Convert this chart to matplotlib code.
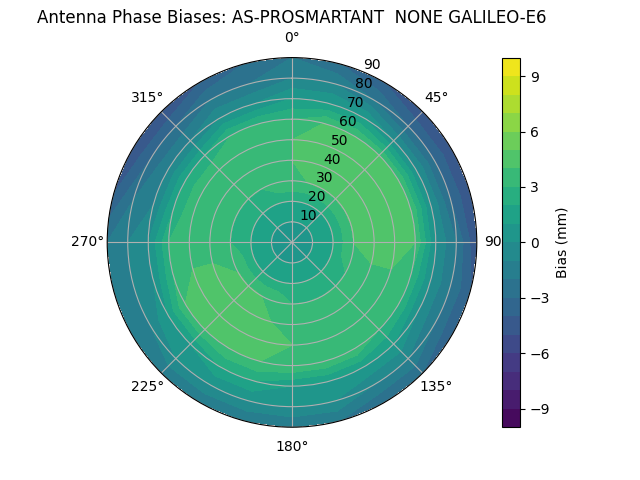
import numpy as np
import matplotlib
matplotlib.use("Agg")
import matplotlib.pyplot as plt

azimuth_deg = list(range(0, 360, 15))
zenith_deg = [0, 10, 20, 30, 40, 50, 60, 70, 80, 90]
bias_mm = [
    [1, 1, 2, 4, 4, 4, 3, 1, -1, -2],   # 0
    [1, 1, 2, 4, 5, 5, 4, 1, -1, -3],   # 15
    [1, 1, 2, 4, 5, 5, 4, 1, -2, -4],   # 30
    [1, 1, 2, 4, 5, 5, 4, 0, -3, -5],   # 45
    [1, 1, 2, 4, 5, 5, 4, 0, -3, -5],   # 60
    [1, 1, 2, 4, 5, 5, 4, 0, -3, -5],   # 75
    [1, 1, 2, 4, 5, 5, 4, 0, -2, -5],   # 90
    [1, 1, 2, 4, 4, 4, 3, 0, -2, -4],   # 105
    [1, 1, 2, 3, 4, 4, 3, 0, -2, -4],   # 120
    [1, 1, 2, 3, 4, 4, 3, 1, -1, -3],   # 135
    [1, 1, 2, 3, 4, 4, 4, 1, -1, -3],   # 150
    [1, 1, 2, 3, 4, 4, 4, 1, 0, -2],    # 165
    [1, 1, 2, 3, 4, 4, 4, 1, 0, -2],    # 180
    [1, 1, 2, 4, 4, 5, 4, 2, 0, -2],    # 195
    [1, 1, 2, 4, 5, 5, 4, 2, 0, -2],    # 210
    [1, 1, 2, 4, 5, 5, 4, 1, 0, -2],    # 225
    [1, 1, 2, 4, 5, 5, 4, 1, -1, -2],   # 240
    [1, 1, 2, 4, 4, 4, 3, 0, -1, -2],   # 255
    [1, 1, 2, 3, 4, 4, 3, 0, -1, -2],   # 270
    [1, 1, 2, 3, 4, 4, 2, -1, -2, -4],  # 285
    [1, 1, 2, 3, 4, 4, 2, -1, -3, -5],  # 300
    [1, 1, 2, 3, 4, 4, 2, -1, -3, -5],  # 315
    [1, 1, 2, 3, 4, 4, 3, 0, -2, -4],   # 330
    [1, 1, 2, 4, 4, 4, 3, 0, -2, -3],   # 345
]

az = np.deg2rad(np.array(azimuth_deg + [360]))
Z = np.array(bias_mm + [bias_mm[0]], dtype=float)
T, R = np.meshgrid(az, np.array(zenith_deg), indexing="ij")

fig = plt.figure(figsize=(6.4, 4.8), dpi=100)
ax = fig.add_subplot(111, projection="polar")
ax.set_theta_zero_location("N")
ax.set_theta_direction(-1)
levels = np.arange(-10, 11, 1)
cf = ax.contourf(T, R, Z, levels=levels, cmap="viridis")
ax.set_ylim(0, 90)
ax.set_yticks(range(10, 91, 10))
ax.set_rlabel_position(22.5)
ax.grid(True, color="#b0b0b0")
cb = fig.colorbar(cf, ax=ax, ticks=range(-9, 10, 3))
cb.set_label("Bias (mm)")
fig.text(0.456, 0.962, "Antenna Phase Biases: AS-PROSMARTANT  NONE GALILEO-E6",
         ha="center", va="center", fontsize=12)
fig.savefig("out.png")
